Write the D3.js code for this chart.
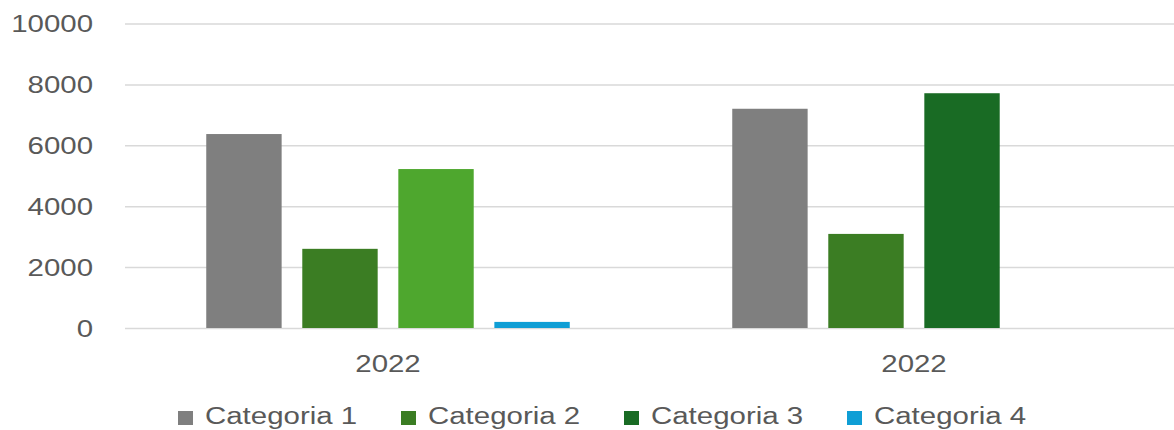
<!DOCTYPE html>
<html><head><meta charset="utf-8">
<script src="https://cdn.jsdelivr.net/npm/d3@7"></script>
<style>html,body{margin:0;padding:0;background:#fff;}svg{display:block;}</style>
</head><body>
<svg id="chart" width="1174" height="430"></svg>
<script>
// ---- data ----
const categories = ["2022", "2022"];
const seriesNames = ["Categoria 1", "Categoria 2", "Categoria 3", "Categoria 4"];
const categoria1 = [6370, 7200];
const categoria2 = [2600, 3090];
const categoria3 = [5220, 7710];
const categoria4 = [200, null];
const yTicks = [0, 2000, 4000, 6000, 8000, 10000];
const seriesColors = ["#7f7f7f", "#3b7d23", "#196b24", "#0f9ed5"];
// per-point colour override (series index, category index, colour)
const pointColors = [{s: 2, c: 0, color: "#4ea72e"}];

const seriesValues = [categoria1, categoria2, categoria3, categoria4];

// ---- layout ----
const svg = d3.select("#chart");
const plotLeft = 125, plotRight = 1177, plotTop = 23.5, plotBottom = 328;
const sx = 1.28; // horizontal text stretch
const font = "'Liberation Sans', Arial, sans-serif";
const textColor = "#595959";

const y = d3.scaleLinear().domain([0, 10000]).range([plotBottom, plotTop]);
const x0 = d3.scaleBand().domain(d3.range(categories.length)).range([plotLeft, plotRight]).padding(0);
const x1 = d3.scaleBand().domain(d3.range(seriesNames.length))
  .range([0, x0.bandwidth()]).paddingInner(0.215).paddingOuter(0.846);

// gridlines + y labels
const yAxis = svg.append("g").attr("transform", `translate(${plotLeft},0)`)
  .call(d3.axisLeft(y).tickValues(yTicks).tickSize(-(plotRight - plotLeft)).tickFormat(d3.format("d")));
yAxis.select(".domain").remove();
yAxis.selectAll(".tick line").attr("stroke", "#d9d9d9").attr("stroke-width", 1.5);
yAxis.selectAll(".tick text")
  .attr("x", -32 / sx).attr("dy", "0.35em")
  .attr("transform", `scale(${sx},1)`)
  .attr("fill", textColor).style("font-family", font).style("font-size", "23px");

// bars
const colorFor = (s, c) => {
  const o = pointColors.find(p => p.s === s && p.c === c);
  return o ? o.color : seriesColors[s];
};
seriesValues.forEach((vals, s) => {
  svg.append("g").selectAll("rect")
    .data(vals.map((v, c) => ({v, c})).filter(d => d.v != null))
    .join("rect")
    .attr("x", d => x0(d.c) + x1(s))
    .attr("width", x1.bandwidth())
    .attr("y", d => y(d.v))
    .attr("height", d => y(0) - y(d.v))
    .attr("fill", d => colorFor(s, d.c));
});

// x axis labels
const xAxis = svg.append("g").attr("transform", `translate(0,${plotBottom})`)
  .call(d3.axisBottom(x0).tickSize(0).tickFormat(i => categories[i]));
xAxis.select(".domain").remove();
xAxis.selectAll(".tick text")
  .attr("y", 44).attr("dy", 0)
  .attr("transform", `scale(${sx},1)`)
  .attr("fill", textColor).style("font-family", font).style("font-size", "23px");

// legend
const legendX = d3.scalePoint().domain(d3.range(seriesNames.length)).range([178, 847]);
const lg = svg.append("g").selectAll("g").data(seriesNames).join("g")
  .attr("transform", (d, i) => `translate(${legendX(i)},411)`);
lg.append("rect").attr("width", 15).attr("height", 14).attr("fill", (d, i) => seriesColors[i]);
lg.append("text").attr("x", 27 / sx).attr("y", 13)
  .attr("transform", `scale(${sx},1)`)
  .text(d => d).attr("fill", textColor)
  .style("font-family", font).style("font-size", "23px");
</script>
</body></html>
